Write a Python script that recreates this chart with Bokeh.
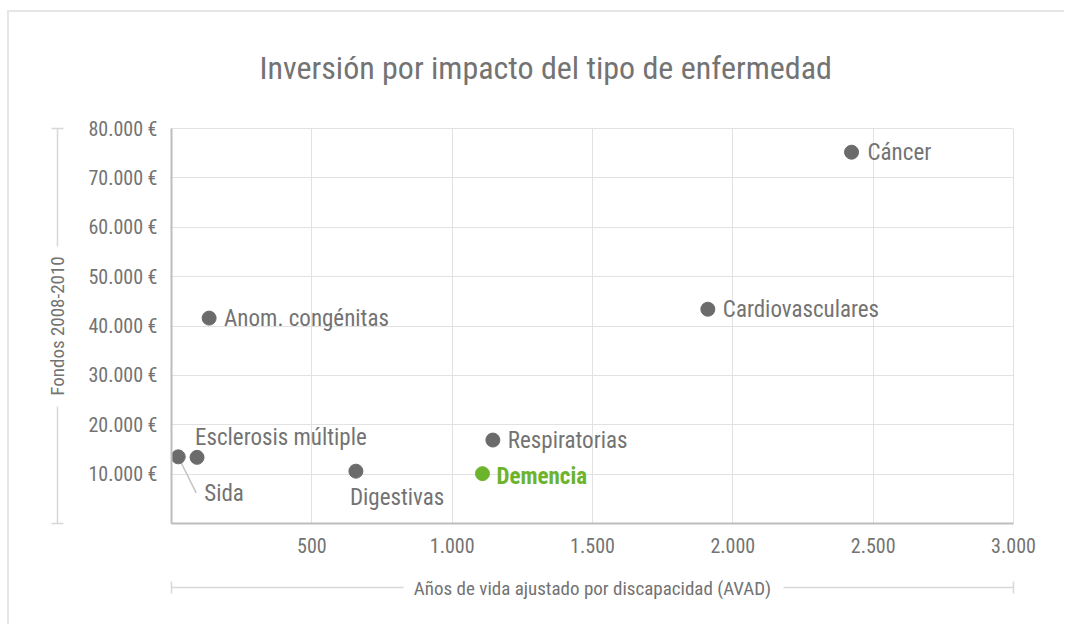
from bokeh.plotting import figure
from bokeh.models import ColumnDataSource, Range1d, LinearAxis, FixedTicker
from bokeh.core.properties import value
from bokeh.embed import file_html
from bokeh.resources import INLINE

# ---------------- data ----------------
names = ["Cáncer", "Cardiovasculares", "Anom. congénitas", "Esclerosis múltiple",
         "Sida", "Digestivas", "Respiratorias", "Demencia"]
avad = [2423, 1911, 134, 91, 24, 657, 1145, 1108]
fondos = [75200, 43400, 41600, 13400, 13500, 10600, 16900, 10100]

x_ticks = [500, 1000, 1500, 2000, 2500, 3000]
x_tick_labels = ["500", "1.000", "1.500", "2.000", "2.500", "3.000"]
y_ticks = [10000, 20000, 30000, 40000, 50000, 60000, 70000, 80000]
y_tick_labels = ["10.000 €", "20.000 €", "30.000 €", "40.000 €",
                 "50.000 €", "60.000 €", "70.000 €", "80.000 €"]

title = "Inversión por impacto del tipo de enfermedad"
x_title = "Años de vida ajustado por discapacidad (AVAD)"
y_title = "Fondos 2008-2010"

# ---------------- styles ----------------
FONT = "Roboto Condensed"
GRAY = "#737373"
DOT = "#6b6b6b"
GREEN = "#6cb42c"
GRID = "#e2e2e2"
DECO = "#d8d8d8"
FRAME = "#e6e6e6"

dx = [16, 15, 15, -2, 26, -6, 15, 14]
dy = [0, 0, 0, -20, 37, 26, 0, 3]
dot_colors = [DOT] * 7 + [GREEN]
txt_colors = [GRAY] * 7 + [GREEN]

src = ColumnDataSource(dict(x=avad, y=fondos, name=names, dx=dx, dy=dy,
                            dc=dot_colors, tc=txt_colors))
src_norm = ColumnDataSource({k: v[:7] for k, v in src.data.items()})
src_hl = ColumnDataSource({k: v[7:] for k, v in src.data.items()})

XMIN, XMAX = 0, 3000
YMIN, YMAX = 0, 80000

p = figure(width=1057, height=614,
           x_range=Range1d(XMIN, XMAX), y_range=Range1d(YMIN, YMAX),
           output_backend="svg", toolbar_location=None,
           min_border_left=162, min_border_right=53,
           min_border_top=116, min_border_bottom=103)
p.margin = (10, 0, 0, 7)
p.styles = {"border-left": f"2px solid {FRAME}", "border-top": f"2px solid {FRAME}"}

p.title.text = title
p.title.text_font = FONT
p.title.text_font_size = "32px"
p.title.text_font_style = "normal"
p.title.text_color = GRAY
p.title.align = "left"
p.title.offset = 88
p.title.standoff = 20

for ax in (p.xaxis[0], p.yaxis[0]):
    ax.axis_line_color = "#bdbdbd"
    ax.axis_line_width = 2
    ax.major_tick_in = 0
    ax.major_tick_out = 0
    ax.minor_tick_line_color = None
    ax.major_label_text_font = FONT
    ax.major_label_text_font_size = "20px"
    ax.major_label_text_color = GRAY
    ax.major_label_standoff = 14

p.xaxis.ticker = x_ticks
p.xaxis.major_label_overrides = dict(zip(x_ticks, x_tick_labels))
p.yaxis.ticker = y_ticks
p.yaxis.major_label_overrides = dict(zip(y_ticks, y_tick_labels))

p.xgrid.grid_line_color = GRID
p.ygrid.grid_line_color = GRID
p.outline_line_color = GRID


def spacer(tick, n):
    # invisible axis that only adds n px of room in its side panel
    return LinearAxis(ticker=FixedTicker(ticks=[tick]), axis_line_color=None,
                      major_tick_line_color="white", minor_tick_line_color=None,
                      major_tick_in=0, major_tick_out=n, major_label_text_color=None,
                      major_label_standoff=0)


def deco(ticks, dash, label):
    return LinearAxis(ticker=FixedTicker(ticks=ticks),
                      axis_line_color=DECO, axis_line_width=1.5, axis_line_dash=dash,
                      major_tick_line_color=DECO, major_tick_line_width=1.5,
                      major_tick_in=6, major_tick_out=6,
                      minor_tick_line_color=None,
                      major_label_text_color=None, major_label_standoff=0,
                      axis_label=label, axis_label_standoff=-17,
                      axis_label_text_font=FONT, axis_label_text_font_size="19px",
                      axis_label_text_font_style="normal",
                      axis_label_text_color=GRAY)


p.add_layout(spacer(XMAX, 32), "above")
p.add_layout(spacer(XMAX, 32), "below")
p.add_layout(deco([XMIN, XMAX], "232 380 400", x_title), "below")
p.add_layout(spacer(YMAX, 28), "left")
p.add_layout(deco([YMIN, YMAX], "117 160 400", y_title), "left")

# leader line for Sida
i_s = names.index("Sida")
p.segment(x0=[avad[i_s]], y0=[fondos[i_s]], x1=[avad[i_s] + 64], y1=[fondos[i_s] - 7300],
          line_color="#c4c4c4", line_width=1.5)

p.scatter("x", "y", source=src, size=14, fill_color="dc", line_color="dc")

p.text("x", "y", text="name", source=src_norm, x_offset="dx", y_offset="dy",
       text_font=value(FONT), text_font_size="23px", text_color="tc",
       text_align="left", text_baseline="middle")
p.text("x", "y", text="name", source=src_hl, x_offset="dx", y_offset="dy",
       text_font=value(FONT), text_font_size="23px", text_font_style="bold",
       text_color="tc", text_align="left", text_baseline="middle")

open("out.html", "w").write(file_html(p, INLINE))
